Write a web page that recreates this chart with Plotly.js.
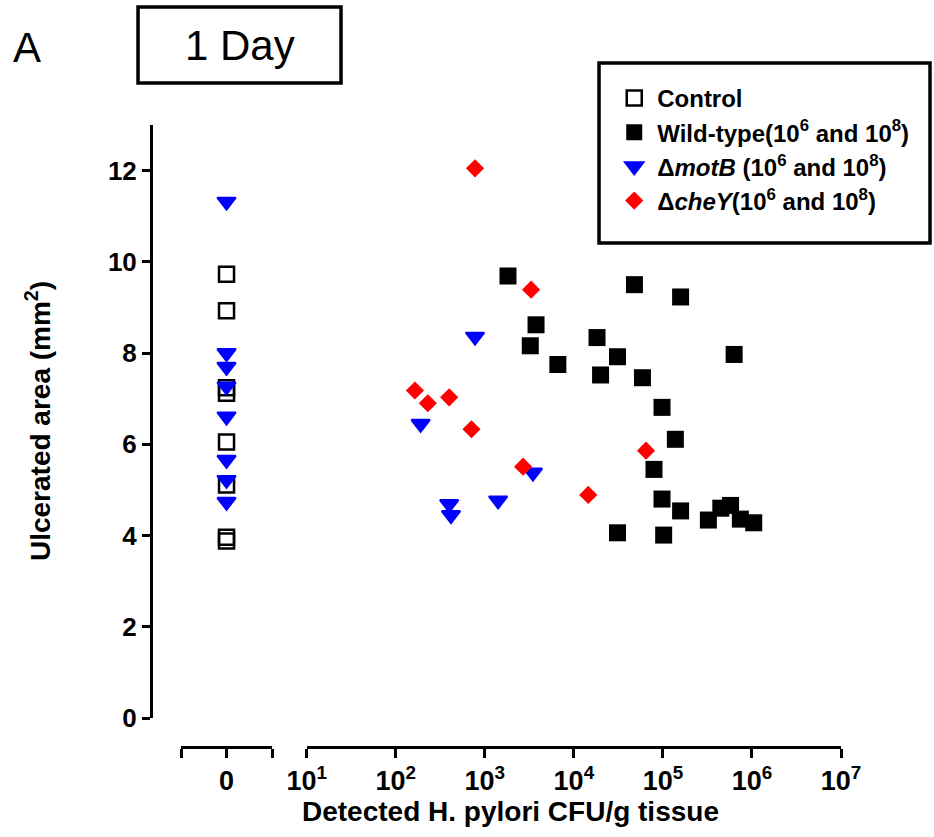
<!DOCTYPE html>
<html>
<head>
<meta charset="utf-8">
<script src="https://cdn.plot.ly/plotly-3.0.1.min.js"></script>
<style>html,body{margin:0;padding:0;background:#fff;}#chart{width:934px;height:837px;}</style>
</head>
<body>
<div id="chart"></div>
<script>
// ---- data ----
var controlX = [0, 0, 0, 0, 0, 0, 0, 0];
var controlY = [9.73, 8.93, 7.24, 7.12, 6.05, 5.11, 3.96, 3.88];

var wtCFU = [1820, 47900, 158000, 3760, 18200, 3240, 631000, 30900, 6610, 19950, 58900,
             97700, 138000, 79400, 97700, 158000, 30900, 102000, 324000, 447000, 575000, 741000, 1047000];
var wtY   = [9.69, 9.50, 9.23, 8.62, 8.34, 8.16, 7.97, 7.92, 7.75, 7.52, 7.46,
             6.81, 6.11, 5.45, 4.80, 4.54, 4.06, 4.01, 4.34, 4.60, 4.66, 4.36, 4.28];

var motBZeroX = [0, 0, 0, 0, 0, 0, 0, 0];
var motBZeroY = [11.32, 8.00, 7.70, 7.27, 6.61, 5.66, 5.22, 4.74];
var motBCFU = [776, 190, 398, 417, 1410, 3470];
var motBY   = [8.36, 6.45, 4.69, 4.45, 4.77, 5.38];

var cheYCFU = [776, 3310, 164, 229, 398, 708, 2690, 14500, 64600];
var cheYY   = [12.05, 9.39, 7.18, 6.90, 7.03, 6.33, 5.51, 4.89, 5.86];

var yTicks = [0, 2, 4, 6, 8, 10, 12];
var zeroTickVals = [-1, 0, 1];
var zeroTickText = ['', '0', ''];
var logTickVals = [1e1, 1e2, 1e3, 1e4, 1e5, 1e6, 1e7];
var logTickText = ['10<sup>1</sup>', '10<sup>2</sup>', '10<sup>3</sup>', '10<sup>4</sup>', '10<sup>5</sup>', '10<sup>6</sup>', '10<sup>7</sup>'];

var seriesNames = ['Control', 'Wild-type(10<sup>6</sup> and 10<sup>8</sup>)',
  '\u0394<i>motB</i> (10<sup>6</sup> and 10<sup>8</sup>)', '\u0394<i>cheY</i>(10<sup>6</sup> and 10<sup>8</sup>)'];

var FONT = 'Liberation Sans, Arial, sans-serif';

var triMarker = {symbol: 'triangle-down', size: 16, color: '#0000ff', line: {width: 2, color: '#0000ff'}};

var traces = [
  {x: controlX, y: controlY, xaxis: 'x', yaxis: 'y', mode: 'markers', type: 'scatter', name: seriesNames[0],
   marker: {symbol: 'square-open', size: 15, color: '#000', line: {width: 2.5, color: '#000'}}},
  {x: wtCFU, y: wtY, xaxis: 'x2', yaxis: 'y', mode: 'markers', type: 'scatter', name: seriesNames[1],
   marker: {symbol: 'square', size: 17, color: '#000', line: {width: 0}}},
  {x: motBCFU, y: motBY, xaxis: 'x2', yaxis: 'y', mode: 'markers', type: 'scatter', name: seriesNames[2],
   legendgroup: 'motB', marker: triMarker},
  {x: cheYCFU, y: cheYY, xaxis: 'x2', yaxis: 'y', mode: 'markers', type: 'scatter', name: seriesNames[3],
   marker: {symbol: 'diamond', size: 14, color: '#ff0000', line: {width: 0}}},
  {x: motBZeroX, y: motBZeroY, xaxis: 'x', yaxis: 'y', mode: 'markers', type: 'scatter', name: seriesNames[2],
   legendgroup: 'motB', showlegend: false, marker: triMarker}
];

var axisCommon = {
  showline: true, linecolor: '#000', linewidth: 3, ticks: 'outside', ticklen: 9, tickwidth: 3, tickcolor: '#000',
  showgrid: false, zeroline: false, fixedrange: true,
  tickfont: {family: FONT, size: 27, color: '#000', weight: 'bold'}
};

var layout = {
  width: 934, height: 837,
  margin: {l: 151, r: 93, t: 125, b: 90},
  paper_bgcolor: '#fff', plot_bgcolor: 'rgba(0,0,0,0)',
  font: {family: FONT, color: '#000'},
  showlegend: true,
  legend: {x: 0.667, xanchor: 'left', y: 1.079, yanchor: 'top', bgcolor: 'rgba(0,0,0,0)', borderwidth: 0,
           itemwidth: 36,
           font: {family: FONT, size: 24, color: '#000', weight: 'bold'}, traceorder: 'normal'},
  xaxis: Object.assign({}, axisCommon, {domain: [0.0435, 0.1754], range: [-1, 1], anchor: 'free', position: 0,
           tickmode: 'array', tickvals: zeroTickVals, ticktext: zeroTickText}),
  xaxis2: Object.assign({}, axisCommon, {domain: [0.2257, 1], type: 'log', range: [1, 7], anchor: 'free', position: 0,
           tickmode: 'array', tickvals: logTickVals, ticktext: logTickText}),
  yaxis: Object.assign({}, axisCommon, {domain: [0.0466, 1], range: [0, 13], anchor: 'free', position: 0,
           tickmode: 'array', tickvals: yTicks, ticklen: 8, tickfont: {family: FONT, size: 26, color: '#000', weight: 'bold'}}),
  shapes: [
    {type: 'rect', xref: 'paper', yref: 'paper', x0: 0.6493, x1: 1.129, y0: 0.8103, y1: 1.0997,
     line: {color: '#000', width: 3.5}, fillcolor: 'rgba(0,0,0,0)'},
    {type: 'rect', xref: 'paper', yref: 'paper', x0: -0.0188, x1: 0.2754, y0: 1.0675, y1: 1.1897,
     line: {color: '#000', width: 3.5}, fillcolor: 'rgba(0,0,0,0)'}
  ],
  annotations: [
    {text: '1 Day', xref: 'paper', yref: 'paper', x: 0.129, y: 1.1286, xanchor: 'center', yanchor: 'middle',
     showarrow: false, font: {family: FONT, size: 42, color: '#000'}},
    {text: 'A', xref: 'paper', yref: 'paper', x: -0.1797, y: 1.1254, xanchor: 'center', yanchor: 'middle',
     showarrow: false, font: {family: FONT, size: 42, color: '#000'}},
    {text: 'Ulcerated area (mm<sup>2</sup>)', xref: 'paper', yref: 'paper', x: -0.1638, y: 0.524,
     xanchor: 'center', yanchor: 'middle', textangle: -90, showarrow: false,
     font: {family: FONT, size: 28, color: '#000', weight: 'bold'}},
    {text: 'Detected H. pylori CFU/g tissue', xref: 'paper', yref: 'paper', x: 0.5203, y: -0.1045,
     xanchor: 'center', yanchor: 'middle', showarrow: false,
     font: {family: FONT, size: 28, color: '#000', weight: 'bold'}}
  ]
};

Plotly.newPlot('chart', traces, layout, {displayModeBar: false, staticPlot: true});
</script>
</body>
</html>
